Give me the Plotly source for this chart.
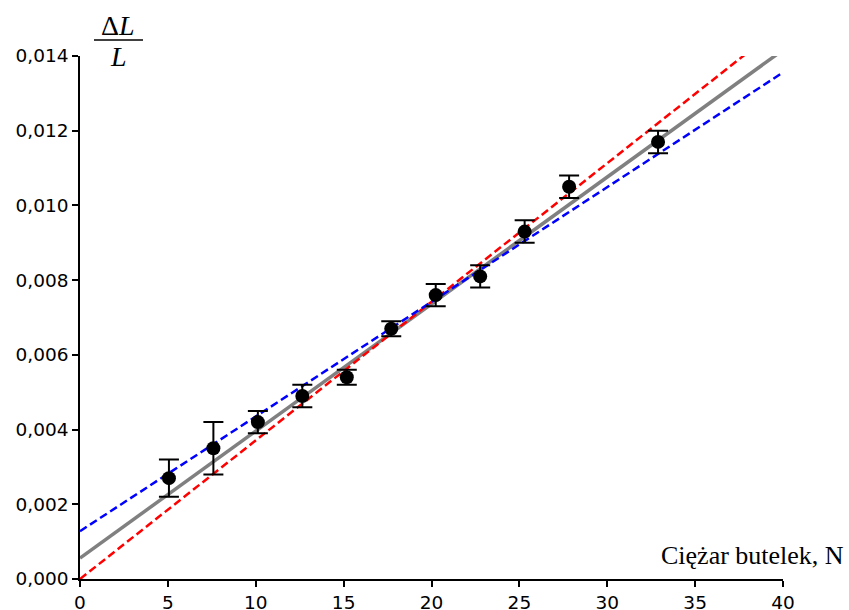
import plotly.graph_objects as go

# Data
weight_n = [5.06, 7.59, 10.12, 12.65, 15.18, 17.71, 20.24, 22.77, 25.30, 27.83, 32.89]
strain = [0.0027, 0.0035, 0.0042, 0.0049, 0.0054, 0.0067, 0.0076, 0.0081, 0.0093, 0.0105, 0.0117]
strain_err = [0.0005, 0.0007, 0.0003, 0.0003, 0.0002, 0.0002, 0.0003, 0.0003, 0.0003, 0.0003, 0.0003]

# Fit lines: (intercept, slope)
fit_names = ["fit", "max", "min"]
fit_intercepts = [0.00056, 0.0, 0.00128]
fit_slopes = [0.000340, 0.000371, 0.000307]
fit_colors = ["#808080", "#ff0000", "#0000ff"]
fit_dash = ["solid", "8px,4px", "8px,4px"]
fit_widths = [3.5, 2.5, 2.5]

x_ticks = [0, 5, 10, 15, 20, 25, 30, 35, 40]
y_ticks = [0.000, 0.002, 0.004, 0.006, 0.008, 0.010, 0.012, 0.014]
y_ticktext = ["0,000", "0,002", "0,004", "0,006", "0,008", "0,010", "0,012", "0,014"]

x_line = [0, 40]

fig = go.Figure()
for name, b, m, c, d, w in zip(fit_names, fit_intercepts, fit_slopes, fit_colors, fit_dash, fit_widths):
    fig.add_trace(go.Scatter(
        x=x_line, y=[b + m * xv for xv in x_line], mode="lines", name=name,
        line=dict(color=c, width=w, dash=d), showlegend=False, hoverinfo="skip"))

fig.add_trace(go.Scatter(
    x=weight_n, y=strain, mode="markers", showlegend=False,
    marker=dict(color="black", size=14),
    error_y=dict(type="data", array=strain_err, visible=True, color="black", thickness=2, width=10),
    cliponaxis=False))

L, R, T, B = 80, 66, 56, 31
W, H = 849, 610
pw, ph = W - L - R, H - T - B

def px(xp):
    return (xp - L) / pw

def py(yp):
    return (H - B - yp) / ph

tickfont = dict(family="DejaVu Sans", size=18.5, color="black")
fig.update_layout(
    width=W, height=H, margin=dict(l=L, r=R, t=T, b=B, autoexpand=False),
    paper_bgcolor="white", plot_bgcolor="white",
    xaxis=dict(range=[0, 40], tickvals=x_ticks, ticks="outside", ticklen=6, tickwidth=1.5,
               tickcolor="black", showline=True, linecolor="black", linewidth=1.5,
               showgrid=False, zeroline=False, tickfont=tickfont),
    yaxis=dict(range=[0, 0.014], tickvals=y_ticks, ticktext=y_ticktext, ticks="outside",
               ticklen=6, tickwidth=1.5, tickcolor="black", showline=True, linecolor="black",
               linewidth=1.5, showgrid=False, zeroline=False, tickfont=tickfont),
    annotations=[
        dict(text="Ciężar butelek, N", xref="paper", yref="paper", x=px(846), y=py(572),
             xanchor="right", yanchor="bottom", showarrow=False,
             font=dict(family="Liberation Serif", size=26, color="black")),
        dict(text="Δ<i>L</i>", xref="paper", yref="paper", x=px(118), y=py(25),
             xanchor="center", yanchor="middle", showarrow=False,
             font=dict(family="Liberation Serif", size=28, color="black")),
        dict(text="<i>L</i>", xref="paper", yref="paper", x=px(118), y=py(57),
             xanchor="center", yanchor="middle", showarrow=False,
             font=dict(family="Liberation Serif", size=28, color="black")),
    ],
    shapes=[dict(type="line", xref="paper", yref="paper", x0=px(94), x1=px(143),
                 y0=py(40), y1=py(40), line=dict(color="black", width=1.5))],
)

fig.write_html("out.html", config={"displayModeBar": False},
               post_script="document.body.style.margin='0';document.body.style.overflow='hidden';")
